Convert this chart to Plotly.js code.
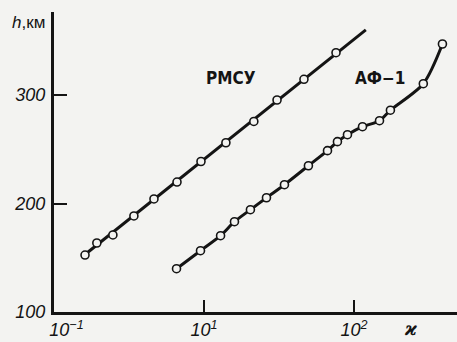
<!DOCTYPE html>
<html>
<head>
<meta charset="utf-8">
<script src="https://cdn.plot.ly/plotly-3.0.1.min.js"></script>
<style>html,body{margin:0;padding:0;background:#f3f3f1;}</style>
</head>
<body>
<div id="chart" style="width:457px;height:342px;"></div>
<script>
// РМСУ measured points
const rmsuX = [1.61, 1.93, 2.47, 3.41, 4.64, 6.61, 9.55, 14.0, 21.5, 30.7, 46.4, 75.9];
const rmsuY = [152.5, 163.6, 171, 188.5, 204.2, 219.8, 238.7, 256, 275.6, 295.4, 314.5, 339];
// РМСУ straight line (as drawn)
const rmsuLineX = [1.61, 120];
const rmsuLineY = [153, 360];
// АФ-1 measured points
const afX = [6.56, 9.48, 12.9, 15.97, 20.4, 26.1, 34.4, 49.7, 66.6, 77.6, 90.5, 114, 148, 175, 290, 389];
const afY = [139.9, 156.5, 170.3, 183.2, 194.3, 205.3, 217.3, 234.8, 248.7, 257, 263.4, 270.8, 276.3, 286, 310.4, 347];
// axis ticks
const xTickVals = [1, 10, 100];
const xTickText = ['\u00A0\u00A0\u00A0\u00A0\u00A0<i>10<sup>\u22121</sup></i>', '<i>10<sup>1</sup></i>', '<i>10<sup>2</sup></i>'];
const yTickVals = [100, 200, 300];
const yTickText = ['<i>100</i>', '<i>200</i>', '<i>300</i>'];

const ink = '#141414';
const markerStyle = {symbol: 'circle', size: 8, color: '#f3f3f1', line: {color: ink, width: 1.6}};

const traces = [
  {x: rmsuLineX, y: rmsuLineY, mode: 'lines', line: {color: ink, width: 3}, hoverinfo: 'skip'},
  {x: rmsuX, y: rmsuY, mode: 'markers', marker: markerStyle},
  {x: afX, y: afY, mode: 'lines', line: {color: ink, width: 3, shape: 'spline', smoothing: 0.8}, hoverinfo: 'skip'},
  {x: afX, y: afY, mode: 'markers', marker: markerStyle}
];

const tickFont = {family: 'Liberation Sans, Arial, sans-serif', size: 18, color: ink};
const labelFont = {family: 'DejaVu Sans Condensed, Liberation Sans Narrow, Liberation Sans, sans-serif', size: 17, color: ink, weight: 'bold'};

const layout = {
  width: 457, height: 342, autosize: false,
  margin: {l: 54, r: 0, t: 12, b: 30, pad: 0},
  paper_bgcolor: '#f3f3f1', plot_bgcolor: '#f3f3f1',
  showlegend: false,
  xaxis: {
    type: 'log', range: [0, 2.687],
    tickmode: 'array', tickvals: xTickVals, ticktext: xTickText,
    ticks: 'inside', ticklen: 12, tickwidth: 2, tickcolor: ink,
    showline: true, linewidth: 2.5, linecolor: ink,
    showgrid: false, zeroline: false, tickfont: tickFont, ticklabelstandoff: 0
  },
  yaxis: {
    range: [100, 376.5],
    tickmode: 'array', tickvals: yTickVals, ticktext: yTickText,
    ticks: 'inside', ticklen: 13, tickwidth: 2, tickcolor: ink,
    showline: true, linewidth: 3, linecolor: ink,
    showgrid: false, zeroline: false, tickfont: tickFont, ticklabelstandoff: 2
  },
  annotations: [
    {xref: 'paper', yref: 'paper', x: 0.44, y: 0.78, text: 'РМСУ', showarrow: false, font: labelFont, xanchor: 'center', yanchor: 'middle'},
    {xref: 'paper', yref: 'paper', x: 0.81, y: 0.78, text: 'АФ\u22121', showarrow: false, font: labelFont, xanchor: 'center', yanchor: 'middle'},
    {xref: 'paper', yref: 'paper', x: 0.885, y: -0.055, text: '<b><i>ϰ</i></b>', showarrow: false, font: {family: 'DejaVu Serif, serif', size: 18, color: ink}, xanchor: 'center', yanchor: 'middle'},
    {xref: 'paper', yref: 'paper', x: -0.108, y: 0.965, text: '<i>h</i>,км', showarrow: false, font: {family: 'Liberation Sans, Arial, sans-serif', size: 17, color: ink}, xanchor: 'left', yanchor: 'middle'}
  ]
};

Plotly.newPlot('chart', traces, layout, {displayModeBar: false, staticPlot: true});
</script>
</body>
</html>
